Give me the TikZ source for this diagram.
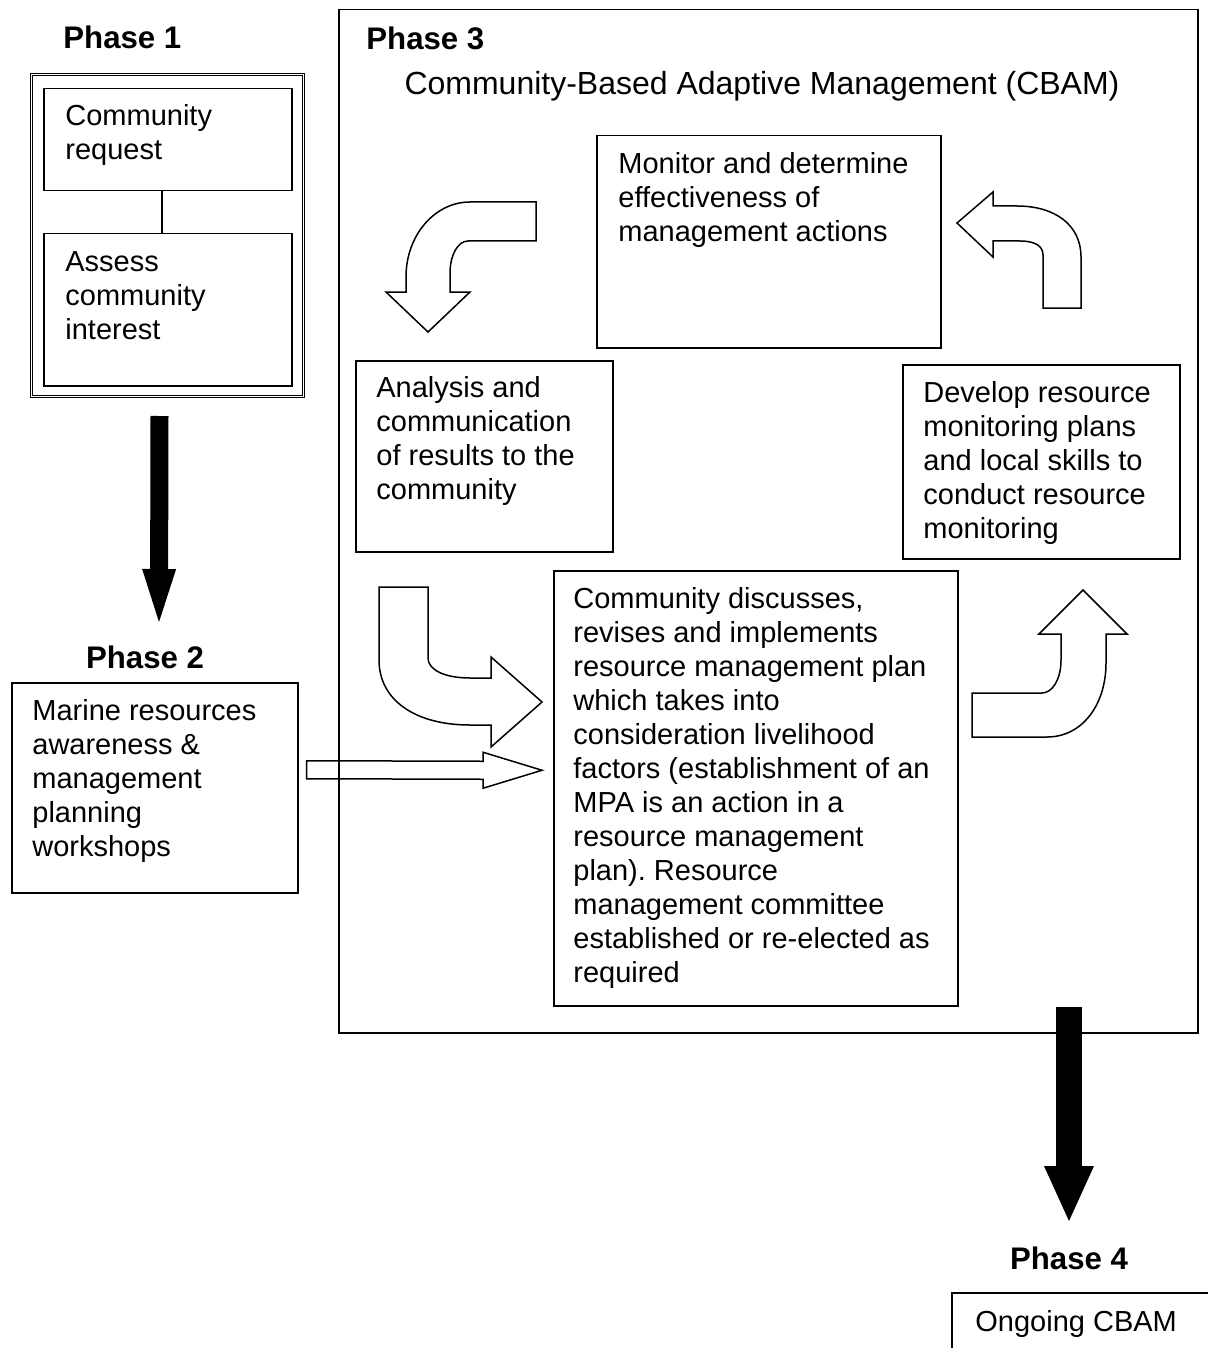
\documentclass[tikz,border=0pt]{standalone}
\usepackage{fontspec}
\setmainfont{Liberation Sans}
\usetikzlibrary{arrows.meta,calc,positioning}
\frenchspacing
\newcommand{\bodyfont}{\fontsize{14.5}{17}\selectfont}
\newcommand{\phasefont}{\fontsize{15.6}{18}\selectfont\bfseries}
\newcommand{\titlefont}{\fontsize{16}{19}\selectfont}

\begin{document}
\begin{tikzpicture}[
    x=0.5pt, y=-0.5pt,
    box/.style={rectangle, draw, line width=0.75pt, inner sep=0pt, anchor=north west},
    txt/.style={inner sep=0pt, anchor=north west, align=left, font=\bodyfont},
    phase/.style={inner sep=0pt, anchor=base, font=\phasefont},
    hollow/.style={draw, line width=0.75pt, line join=miter},
    bigarrow/.style={line width=9pt, -{Triangle[width=17pt, length=26.5pt, line width=0pt]}}
]
\useasboundingbox (0,0) rectangle (1208,1348);

% Phase 1
\node[phase, anchor=base west] (ph1) at (63,49) {Phase 1};
\node[box, double, line width=0.5pt, double distance=0.8pt, minimum width=136pt, minimum height=161pt] (p1outer) at (31,74) {};
\node[box, minimum width=124pt, minimum height=51pt] (req) at (43,88) {};
\node[box, minimum width=124pt, minimum height=76pt] (assess) at (43,233) {};
\node[txt, below right=8pt and 11pt of req.north west] (reqtxt) {Community\\request};
\node[txt, below right=9pt and 11pt of assess.north west] (assesstxt) {Assess\\community\\interest};
\draw[line width=0.75pt] ([xshift=-3pt]req.south) -- ([xshift=-3pt]assess.north);

% Phase 2
\node[phase] (ph2) at (145,668) {Phase 2};
\node[box, minimum width=143pt, minimum height=105pt] (p2box) at (11,682) {};
\node[txt, below right=8.5pt and 10.5pt of p2box.north west] (p2txt) {Marine resources\\awareness \&\\management\\planning\\workshops};

% Phase 3 (CBAM cycle)
\node[box, minimum width=429.5pt, minimum height=511.5pt] (cbam) at (338,9) {};
\node[phase, anchor=base west] (ph3) at (366,50) {Phase 3};
\node[inner sep=0pt, anchor=base, font=\titlefont] (title) at (762,95) {Community-Based Adaptive Management (CBAM)};

\node[box, minimum width=172pt, minimum height=106pt] (monbox) at (596,135) {};
\node[txt, below right=8.5pt and 11pt of monbox.north west] (montxt) {Monitor and determine\\effectiveness of\\management actions};

\node[box, minimum width=128.5pt, minimum height=95.5pt] (anbox) at (355,360) {};
\node[txt, below right=8pt and 10.5pt of anbox.north west] (antxt) {Analysis and\\communication\\of results to the\\community};

\node[box, minimum width=138.5pt, minimum height=97pt] (devbox) at (902,364) {};
\node[txt, below right=8.5pt and 10.5pt of devbox.north west] (devtxt) {Develop resource\\monitoring plans\\and local skills to\\conduct resource\\monitoring};

\node[box, minimum width=202pt, minimum height=217.5pt] (discuss) at (553,570) {};
\node[txt, below right=8.5pt and 10pt of discuss.north west] (discusstxt) {Community discusses,\\revises and implements\\resource management plan\\which takes into\\consideration livelihood\\factors (establishment of an\\MPA is an action in a\\resource management\\plan). Resource\\management committee\\established or re-elected as\\required};

% Phase 4
\node[phase] (ph4) at (1069,1269) {Phase 4};
\node[box, minimum width=150pt, minimum height=50pt] (p4box) at (951,1292) {};
\node[txt, below right=9pt and 12pt of p4box.north west] (p4txt) {Ongoing CBAM};

% Curved cycle arrows
\draw[hollow] (536,202) -- (470,202) .. controls (435,202) and (406,235) .. (406,277) -- (406,292) -- (386,292) -- (428,332) -- (470,292) -- (450,292) -- (450,273) .. controls (450,255) and (458,241) .. (468,241) -- (536,241) -- cycle;
\draw[hollow] (957,223) -- (993,192) -- (993,206) -- (1017,206) .. controls (1055,206) and (1081,225) .. (1081,257) -- (1081,308) -- (1043,308) -- (1043,255) .. controls (1043,246) and (1035,241) .. (1020,241) -- (993,241) -- (993,257) -- cycle;
\draw[hollow] (379,587) -- (428,587) -- (428,658) .. controls (428,670) and (445,678) .. (470,678) -- (491,678) -- (491,657) -- (542,702) -- (491,747) -- (491,725) -- (470,725) .. controls (415,725) and (379,700) .. (379,660) -- cycle;
\draw[hollow] (1061,634) -- (1061,660) .. controls (1061,680) and (1052,693) .. (1042,693) -- (972,693) -- (972,737) -- (1047,737) .. controls (1082,737) and (1106,705) .. (1106,663) -- (1106,634) -- (1127,634) -- (1083,590) -- (1039,634) -- cycle;

% Phase 2 into the plan
\coordinate (e0) at ([xshift=4pt,yshift=9pt]p2box.east);
\coordinate (e1) at ([xshift=-5.5pt,yshift=9pt]discuss.west);
\draw[hollow] ($(e0)+(0,-9)$) -- ($(e1)+(-59,-9)$) -- ($(e1)+(-59,-18)$) -- (e1) -- ($(e1)+(-59,18)$) -- ($(e1)+(-59,9)$) -- ($(e0)+(0,9)$) -- cycle;

% Phase arrows
\draw[bigarrow] ([xshift=-4pt,yshift=-9.5pt]p1outer.south) -- ([xshift=7pt,yshift=11.5pt]ph2.north);
\draw[bigarrow, line width=13pt, -{Triangle[width=25pt, length=27.5pt, line width=0pt]}] (ph4.north |- discuss.south) -- ([yshift=12.5pt]ph4.north);

\end{tikzpicture}
\end{document}
